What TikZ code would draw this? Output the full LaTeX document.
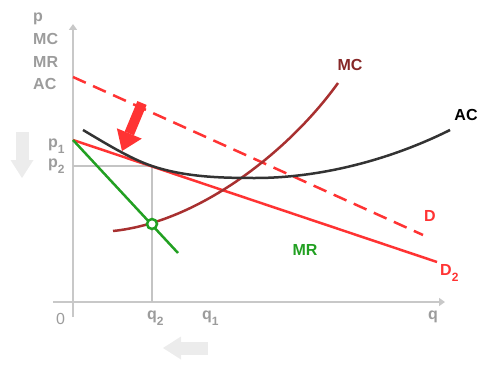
\documentclass[tikz,border=0pt]{standalone}
\usepackage{fontspec}
\setmainfont{Liberation Sans}
\usetikzlibrary{positioning,arrows.meta,calc}
\definecolor{axisgray}{HTML}{C8C8C8}
\definecolor{guidegray}{HTML}{C4C4C4}
\definecolor{lblgray}{HTML}{9C9C9C}
\definecolor{hintgray}{HTML}{ECECEC}
\definecolor{dred}{HTML}{FF3333}
\definecolor{mcred}{HTML}{A83030}
\definecolor{mcgreen}{HTML}{22A022}
\newcommand{\lowidx}[1]{\raisebox{-6pt}{\fontsize{12}{12}\selectfont #1}}

\begin{document}
\begin{tikzpicture}[
    x=1pt, y=-1pt,
    lbl/.style={font=\bfseries\fontsize{16}{16}\selectfont, inner sep=0pt},
    axis/.style={draw=axisgray, line width=2.5pt, -{Triangle[length=6pt,width=8pt]}},
    guide/.style={draw=guidegray, line width=1.2pt},
    curve/.style={line width=2.5pt},
    hint/.style={draw=hintgray, line width=13pt, -{Triangle[length=18pt,width=23pt,line width=0pt]}}
]
\useasboundingbox (0,0) rectangle (500,369);

% axes
\coordinate (O) at (73,302);
\coordinate (ybot) at (73,317);
\coordinate (ytop) at (73,24);
\coordinate (xleft) at (53,302);
\coordinate (xright) at (445,302);
\draw[axis] (ybot) -- (ytop);
\draw[axis] (xleft) -- (xright);

% points on the curves
\coordinate (ptwo) at (73,166);
\coordinate (qtwo) at (152,302);
\coordinate (pone) at (73,140);
\coordinate (dA) at (73,77);
\coordinate (dB) at (423,235);
\coordinate (dtwoB) at (437,262);
\coordinate (mrB) at (178,253);
\coordinate (mcA) at (113,231);
\coordinate (mcB) at (338,83);
\coordinate (acA) at (83,130);
\coordinate (tang) at (152,166);
\coordinate (acmin) at (255,178);
\coordinate (acB) at (450,130);
\coordinate (opt) at (152,224);

\draw[guide] (ptwo) -| (qtwo);

% demand, marginal revenue, costs
\draw[curve, dred, dash pattern=on 14pt off 8pt] (dA) -- (dB);
\draw[curve, dred] (pone) -- (dtwoB);
\draw[curve, mcgreen] (pone) -- (mrB);
\draw[curve, mcred] (mcA) .. controls (200,222) and (290,150) .. (mcB);
\draw[curve, black!80] (acA) .. controls (105,143) and (130,158.6) .. (tang)
    .. controls (185,177) and (220,178) .. (acmin)
    .. controls (320,178) and (390,160) .. (acB);
\node[circle, draw=mcgreen, fill=white, line width=2.5pt, minimum size=10pt, inner sep=0pt] (mrmc) at (opt) {};

% shift of demand
\coordinate (shA) at (142,103);
\coordinate (shB) at (122,151);
\draw[dred, line width=10pt, -{Triangle[length=19pt,width=27pt,line width=0pt]}] (shA) -- (shB);

% hints
\coordinate (hpA) at (22,132);
\coordinate (hpB) at (22,178);
\coordinate (hqA) at (208,348);
\coordinate (hqB) at (163,348);
\draw[hint] (hpA) -- (hpB);
\draw[hint] (hqA) -- (hqB);

% labels
\node[lbl, lblgray, anchor=base west] (yp) at (33,22) {p};
\node[lbl, lblgray, anchor=base west] (ymc) at (33,44.5) {MC};
\node[lbl, lblgray, anchor=base west] (ymr) at (33,67) {MR};
\node[lbl, lblgray, anchor=base west] (yac) at (33,89.5) {AC};
\node[lbl, lblgray, anchor=base west] (pone lbl) at (48,147) {p\lowidx{1}};
\node[lbl, lblgray, anchor=base west] (ptwo lbl) at (48,167) {p\lowidx{2}};
\node[lbl, lblgray, anchor=base west] (qtwo lbl) at (147,319) {q\lowidx{2}};
\node[lbl, lblgray, anchor=base west] (qone lbl) at (202,319) {q\lowidx{1}};
\node[lbl, lblgray, anchor=base west] (q lbl) at (428,319) {q};
\node[inner sep=0pt, lblgray, font=\fontsize{16}{16}\selectfont, anchor=base west] (zero) at (56,324) {0};

\node[lbl, mcred!80!black] (mc lbl) at (350,65) {MC};
\node[lbl, black] (ac lbl) at (466,115) {AC};
\node[lbl, dred] (d lbl) at (430,216) {D};
\node[lbl, dred, anchor=base west] (dtwo lbl) at (440,275) {D\lowidx{2}};
\node[lbl, mcgreen] (mr lbl) at (305,250) {MR};
\end{tikzpicture}
\end{document}
